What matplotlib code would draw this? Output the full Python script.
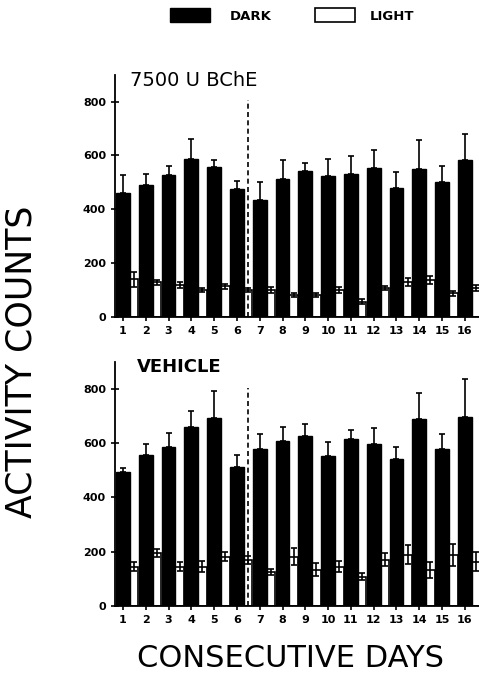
import numpy as np
import matplotlib.pyplot as plt
from matplotlib.patches import Rectangle

days = list(range(1, 17))

# 7500 U BChE
bche_dark = [462, 491, 528, 587, 557, 477, 435, 512, 541, 522, 532, 554, 479, 550, 502, 584]
bche_dark_sem = [64, 42, 34, 74, 26, 28, 65, 71, 31, 65, 65, 65, 61, 109, 60, 96]
bche_light = [140, 128, 118, 100, 113, 100, 100, 82, 82, 100, 57, 108, 131, 138, 88, 107]
bche_light_sem = [28, 10, 10, 8, 10, 8, 12, 8, 8, 10, 8, 8, 15, 15, 10, 12]

# vehicle
veh_dark = [493, 558, 587, 659, 692, 511, 578, 608, 628, 551, 616, 596, 542, 688, 579, 698]
veh_dark_sem = [17, 38, 50, 61, 102, 44, 55, 53, 42, 55, 33, 59, 45, 96, 54, 137]
veh_light = [145, 194, 145, 145, 182, 170, 125, 182, 133, 145, 108, 170, 188, 133, 188, 163]
veh_light_sem = [17, 15, 17, 20, 18, 15, 10, 30, 24, 20, 14, 24, 35, 30, 40, 35]

fig = plt.figure(figsize=(4.79, 6.8), dpi=100)
ax_top = fig.add_axes([0.240, 0.534, 0.760, 0.356])
ax_bot = fig.add_axes([0.240, 0.109, 0.760, 0.359])

x = np.array(days, dtype=float)


def draw_panel(ax, dark, dark_sem, light, light_sem, title, title_x, bold, fs):
    # light bars sit just right of the dark bars, drawn behind them
    ax.bar(x + 0.3, light, width=0.38, align='edge', color='white',
           edgecolor='black', linewidth=1.2, zorder=2)
    ax.errorbar(x + 0.49, light, yerr=light_sem, fmt='none',
                ecolor='black', elinewidth=1.2, capsize=2.5, capthick=1.2, zorder=2)
    ax.bar(x, dark, width=0.6, color='black', edgecolor='black', zorder=3)
    ax.errorbar(x, dark, yerr=[np.zeros(16), dark_sem], fmt='none',
                ecolor='black', elinewidth=1.2, capsize=2.5, capthick=1.2, zorder=3)
    ax.vlines(6.5, 0, 805, colors='black', linestyles=(0, (3, 2)), linewidth=1.2, zorder=4)

    ax.set_xlim(0.65, 16.62)
    ax.set_ylim(0, 900)
    ax.set_yticks([0, 200, 400, 600, 800])
    ax.set_xticks(days)
    ax.tick_params(axis='both', direction='inout', length=6, width=1.2,
                   labelsize=8)
    for lab in ax.get_xticklabels() + ax.get_yticklabels():
        lab.set_fontweight('bold')
    ax.spines['top'].set_visible(False)
    ax.spines['right'].set_visible(False)
    ax.spines['left'].set_linewidth(1.3)
    ax.spines['bottom'].set_linewidth(1.3)
    ax.text(title_x, 880, title, fontsize=fs, va='center', ha='left',
            fontweight='bold' if bold else 'normal')


draw_panel(ax_top, bche_dark, bche_dark_sem, bche_light, bche_light_sem,
           '7500 U BChE', 1.3, False, 14)
draw_panel(ax_bot, veh_dark, veh_dark_sem, veh_light, veh_light_sem,
           'VEHICLE', 1.6, True, 13)

fig.text(0.045, 0.468, 'ACTIVITY COUNTS', rotation=90, fontsize=25,
         ha='center', va='center')
fig.text(0.606, 0.032, 'CONSECUTIVE DAYS', fontsize=22, ha='center', va='center')

# legend at top
fig.patches.append(Rectangle((170 / 479, 1 - 22 / 680), 40 / 479, 14 / 680,
                             transform=fig.transFigure, facecolor='black',
                             edgecolor='black', figure=fig))
fig.text(230 / 479, 1 - 16 / 680, 'DARK', fontsize=9.5, fontweight='bold',
         ha='left', va='center')
fig.patches.append(Rectangle((315 / 479, 1 - 22 / 680), 40 / 479, 14 / 680,
                             transform=fig.transFigure, facecolor='white',
                             edgecolor='black', linewidth=1.2, figure=fig))
fig.text(370 / 479, 1 - 16 / 680, 'LIGHT', fontsize=9.5, fontweight='bold',
         ha='left', va='center')

fig.savefig('out.png', dpi=100)
